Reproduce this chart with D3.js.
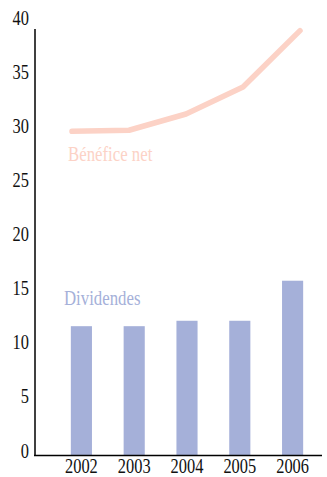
<!DOCTYPE html>
<html><head><meta charset="utf-8">
<script src="https://cdn.jsdelivr.net/npm/d3@7"></script>
<style>body{margin:0;background:#fff}svg{display:block}</style>
</head><body>
<script>
const years = ["2002","2003","2004","2005","2006"];
const dividendes = [11.9, 11.9, 12.4, 12.4, 16.1];
const beneficeNet = [29.9, 30.0, 31.5, 34.0, 39.2];
const yTicks = [0,5,10,15,20,25,30,35,40];

const W = 327, H = 477;
const svg = d3.select("body").append("svg").attr("width", W).attr("height", H);
const font = "'Liberation Serif', serif";
const x = d3.scaleBand().domain(years).range([55, 319]).paddingInner(0.6).paddingOuter(0.3);
const xl = d3.scalePoint().domain(years).range([72, 300]);
const y = d3.scaleLinear().domain([0, 40]).range([455, 22]);

// bars
svg.selectAll("rect.bar").data(years).join("rect")
  .attr("x", d => x(d)).attr("width", x.bandwidth())
  .attr("y", (d,i) => y(dividendes[i])).attr("height", (d,i) => y(0) - y(dividendes[i]))
  .attr("fill", "#a5b0d9");

// line
const line = d3.line().x((d,i) => xl(years[i])).y(d => y(d));
svg.append("path").datum(beneficeNet).attr("d", line)
  .attr("fill", "none").attr("stroke", "#fcd2c6").attr("stroke-width", 5.5)
  .attr("stroke-linecap", "round").attr("stroke-linejoin", "round");

// axes
svg.append("line").attr("x1", 35).attr("x2", 35).attr("y1", 29).attr("y2", 455.5).attr("stroke", "#000").attr("stroke-width", 1.5);
svg.append("line").attr("x1", 34).attr("x2", 322).attr("y1", 455.5).attr("y2", 455.5).attr("stroke", "#000").attr("stroke-width", 1.5);

svg.append("g").selectAll("text").data(yTicks).join("text")
  .attr("transform", d => `translate(29,${y(d) + 2.5}) scale(0.82,1)`)
  .attr("text-anchor", "end")
  .attr("font-family", font).attr("font-size", 20).attr("fill", "#111")
  .text(d => d);

svg.append("g").selectAll("text").data(years).join("text")
  .attr("transform", d => `translate(${x(d) + x.bandwidth()/2},473) scale(0.82,1)`)
  .attr("text-anchor", "middle")
  .attr("font-family", font).attr("font-size", 20).attr("fill", "#111")
  .text(d => d);

svg.append("text").attr("transform", "translate(68,161) scale(0.84,1)")
  .attr("font-family", font).attr("font-size", 20).attr("fill", "#fcd2c6").text("Bénéfice net");
svg.append("text").attr("transform", "translate(64,305) scale(0.84,1)")
  .attr("font-family", font).attr("font-size", 20).attr("fill", "#a5b0d9").text("Dividendes");
</script>
</body></html>
